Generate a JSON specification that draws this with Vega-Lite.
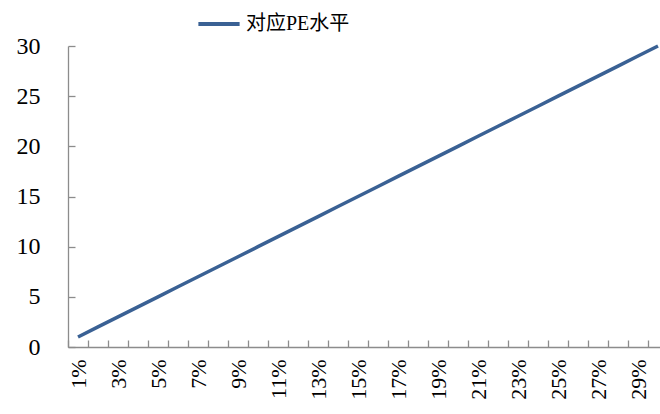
{
  "$schema": "https://vega.github.io/schema/vega-lite/v6.json",
  "autosize": {"type": "none"},
  "padding": {"left": 68, "top": 46, "right": 0, "bottom": 67},
  "width": 592,
  "height": 301,
  "background": "white",
  "data": {
    "values": [
      {"rate": "1%", "pe": 1}, {"rate": "2%", "pe": 2}, {"rate": "3%", "pe": 3},
      {"rate": "4%", "pe": 4}, {"rate": "5%", "pe": 5}, {"rate": "6%", "pe": 6},
      {"rate": "7%", "pe": 7}, {"rate": "8%", "pe": 8}, {"rate": "9%", "pe": 9},
      {"rate": "10%", "pe": 10}, {"rate": "11%", "pe": 11}, {"rate": "12%", "pe": 12},
      {"rate": "13%", "pe": 13}, {"rate": "14%", "pe": 14}, {"rate": "15%", "pe": 15},
      {"rate": "16%", "pe": 16}, {"rate": "17%", "pe": 17}, {"rate": "18%", "pe": 18},
      {"rate": "19%", "pe": 19}, {"rate": "20%", "pe": 20}, {"rate": "21%", "pe": 21},
      {"rate": "22%", "pe": 22}, {"rate": "23%", "pe": 23}, {"rate": "24%", "pe": 24},
      {"rate": "25%", "pe": 25}, {"rate": "26%", "pe": 26}, {"rate": "27%", "pe": 27},
      {"rate": "28%", "pe": 28}, {"rate": "29%", "pe": 29}, {"rate": "30%", "pe": 30}
    ]
  },
  "mark": {"type": "line", "strokeWidth": 3.5, "clip": false},
  "encoding": {
    "x": {
      "field": "rate",
      "type": "ordinal",
      "sort": null,
      "scale": {"range": [0, 600], "paddingInner": 0, "paddingOuter": 0},
      "axis": {
        "title": null,
        "labelAngle": -90,
        "labelOverlap": false,
        "labelExpr": "parseInt(datum.value) % 2 == 1 ? datum.value : ''",
        "tickBand": "extent",
        "tickSize": -7,
        "labelPadding": 19,
        "labelFontSize": 22
      }
    },
    "y": {
      "field": "pe",
      "type": "quantitative",
      "scale": {"domain": [0, 30], "nice": false},
      "axis": {
        "title": null,
        "values": [0, 5, 10, 15, 20, 25, 30],
        "tickSize": -7,
        "labelPadding": 35,
        "labelFontSize": 24,
        "grid": false
      }
    },
    "color": {
      "datum": "对应PE水平",
      "type": "nominal",
      "scale": {"range": ["#3A6194"]},
      "legend": {
        "title": null,
        "orient": "none",
        "legendX": 128,
        "legendY": -45,
        "symbolType": "stroke",
        "symbolSize": 1700,
        "symbolStrokeWidth": 4,
        "labelFontSize": 20,
        "labelFont": "Liberation Serif, Noto Sans CJK SC",
        "labelColor": "black",
        "labelOffset": 4
      }
    }
  },
  "config": {
    "view": {"stroke": null},
    "axis": {
      "domainColor": "#8c8c8c",
      "tickColor": "#8c8c8c",
      "domainWidth": 1.3,
      "tickWidth": 1.3,
      "labelFont": "Liberation Serif",
      "labelFontSize": 20,
      "labelColor": "black"
    }
  }
}
